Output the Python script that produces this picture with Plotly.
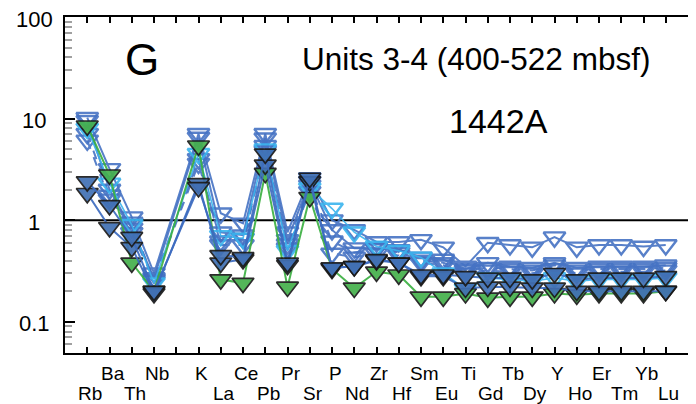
"""Spider diagram G - Units 3-4 (400-522 mbsf), Hole 1442A"""
import math
import plotly.graph_objects as go

# x slots: index 4 is an unlabeled position between Nb and K
SLOTS = ["Rb", "Ba", "Th", "Nb", "", "K", "La", "Ce", "Pb", "Pr", "Sr", "P", "Nd",
         "Zr", "Hf", "Sm", "Eu", "Ti", "Gd", "Tb", "Dy", "Y", "Ho", "Er", "Tm", "Yb", "Lu"]
ELEMENTS = [s for s in SLOTS if s]
POSITIONS = [i for i, s in enumerate(SLOTS) if s]

# normalized concentrations, one value per element (Rb ... Lu)
green_filled = [8.5, 2.8, 0.38, 0.20, 5.4, 0.26, 0.24, 2.9, 0.22, 1.68, 0.33, 0.215, 0.31,
                0.29, 0.176, 0.176, 0.19, 0.172, 0.176, 0.176, 0.19, 0.184, 0.19, 0.19, 0.19, 0.20]
blue_filled_a = [2.4, 1.4, 0.68, 0.20, 2.1, 0.45, 0.43, 4.5, 0.38, 2.6, 0.34, 0.35, 0.41,
                 0.38, 0.29, 0.29, 0.28, 0.27, 0.27, 0.26, 0.30, 0.26, 0.27, 0.27, 0.27, 0.28]
blue_filled_b = [1.84, 0.85, 0.54, 0.19, 2.3, 0.38, 0.41, 3.5, 0.36, 2.4, 0.34, 0.35, 0.40,
                 0.38, 0.28, 0.28, 0.215, 0.22, 0.22, 0.215, 0.215, 0.20, 0.20, 0.20, 0.20, 0.20]
open_1 = [10.2, 3.2, 1.07, 0.30, 7.1, 1.17, 0.93, 7.1, 0.76, 2.6, 1.0, 0.80, 0.61,
          0.61, 0.64, 0.54, 0.35, 0.60, 0.57, 0.54, 0.68, 0.54, 0.57, 0.57, 0.55, 0.57]
open_2 = [9.5, 2.0, 0.83, 0.27, 6.5, 0.76, 0.71, 6.4, 0.64, 2.4, 0.80, 0.53, 0.53,
          0.51, 0.43, 0.41, 0.33, 0.38, 0.35, 0.34, 0.38, 0.34, 0.35, 0.35, 0.35, 0.36]
open_3 = [7.1, 1.75, 0.75, 0.26, 4.0, 0.57, 0.57, 5.4, 0.53, 1.9, 0.47, 0.43, 0.47,
          0.45, 0.38, 0.36, 0.30, 0.32, 0.31, 0.30, 0.33, 0.30, 0.31, 0.31, 0.31, 0.32]
open_4 = [6.1, 1.6, 0.95, 0.25, 3.6, 0.62, 0.66, 4.8, 0.58, 2.2, 0.62, 0.48, 0.52,
          0.48, 0.40, 0.38, 0.32, 0.34, 0.33, 0.32, 0.36, 0.32, 0.33, 0.33, 0.33, 0.34]
open_light = [8.0, 2.3, 0.90, 0.24, 4.5, 0.70, 0.66, 5.0, 0.50, 2.06, 1.30, 0.76, 0.55,
              0.50, 0.43, 0.30, 0.21, 0.27, 0.26, 0.25, 0.27, 0.25, 0.26, 0.26, 0.26, 0.27]

Y_TICKS = [0.1, 1, 10, 100]
Y_TICK_TEXT = ["0.1", "1", "10", "100"]
Y_MINOR = [m * 10 ** e for e in (-2, -1, 0, 1) for m in range(2, 10)]

BLUE = "#4673c4"
LIGHT = "#3ab4ee"
FONT = "Liberation Sans, Arial, sans-serif"

fig = go.Figure()


def add_open(values, color, dash="solid", width=2):
    fig.add_trace(go.Scatter(
        x=POSITIONS, y=values, mode="lines+markers",
        line=dict(color=color, width=width, dash=dash),
        marker=dict(symbol="triangle-down-open", size=19, color=color,
                    line=dict(color=color, width=2.4)),
        opacity=0.9, showlegend=False,
    ))


def add_filled(values, fill, line_color):
    fig.add_trace(go.Scatter(
        x=POSITIONS, y=values, mode="lines+markers",
        line=dict(color=line_color, width=2),
        marker=dict(symbol="triangle-down", size=19, color=fill,
                    line=dict(color="#1a1a1a", width=1.7)),
        opacity=0.92, showlegend=False,
    ))


add_open(open_4, BLUE, dash="dash")
add_open(open_3, BLUE, dash="dash")
add_open(open_2, BLUE)
add_open(open_1, BLUE)
add_open(open_light, LIGHT, width=1.6)
add_filled(green_filled, "#45b04c", "#3cb043")
add_filled(blue_filled_b, "#4170b4", "#3d6cc0")
add_filled(blue_filled_a, "#4170b4", "#3d6cc0")

# reference line at 1
fig.add_shape(type="line", xref="paper", x0=0, x1=1, yref="y", y0=1, y1=1,
              line=dict(color="black", width=2), layer="below")


def label(text, x, y, size, xref="paper", yref="paper", yshift=0, xshift=0):
    fig.add_annotation(x=x, y=y, xref=xref, yref=yref, text=text, showarrow=False,
                       xanchor="center", yanchor="middle", xshift=xshift, yshift=yshift,
                       font=dict(size=size, color="black", family=FONT))


# element labels in two staggered rows: odd slots up, even slots down
for i, name in enumerate(SLOTS):
    if name:
        label(name, i, -0.061 if i % 2 else -0.1205, 19, xref="x", xshift=3)

# y tick labels, centred in the left margin (annotations on a log axis take log10)
for val, txt in zip(Y_TICKS, Y_TICK_TEXT):
    label(txt, -0.049, math.log10(val), 22, yref="y", yshift=-2)

label("G", 0.1228, 0.875, 44)
label("Units 3-4 (400-522 mbsf)", 0.6597, 0.875, 31.5)
label("1442A", 0.6958, 0.6905, 34)

# the page body adds an 8 px offset, so the figure is 8 px smaller than the window
fig.update_layout(
    width=688, height=396,
    margin=dict(l=57, r=8, t=9, b=51, autoexpand=False),
    paper_bgcolor="white", plot_bgcolor="white",
    font=dict(family=FONT, color="black"),
    xaxis=dict(
        range=[-1, 27], tickvals=list(range(len(SLOTS))), showticklabels=False,
        ticks="inside", ticklen=6, tickwidth=1.5, tickcolor="black",
        showline=True, linecolor="black", linewidth=2, mirror="ticks",
        showgrid=False, zeroline=False, automargin=False,
    ),
    yaxis=dict(
        type="log", range=[-1.308, 2],
        tickvals=Y_TICKS, showticklabels=False,
        ticks="inside", ticklen=10, tickwidth=2, tickcolor="black",
        minor=dict(tickvals=Y_MINOR, ticks="inside", ticklen=7, tickwidth=2,
                   tickcolor="#a0a0a0", showgrid=False),
        showline=True, linecolor="black", linewidth=2, mirror=True,
        showgrid=False, zeroline=False, automargin=False,
    ),
    yaxis2=dict(
        type="log", range=[-1.308, 2], overlaying="y", side="right",
        tickvals=Y_TICKS, showticklabels=False,
        ticks="inside", ticklen=4, tickwidth=1.5, tickcolor="black",
        showline=False, showgrid=False, zeroline=False, automargin=False,
    ),
)

fig.write_html("out.html")
